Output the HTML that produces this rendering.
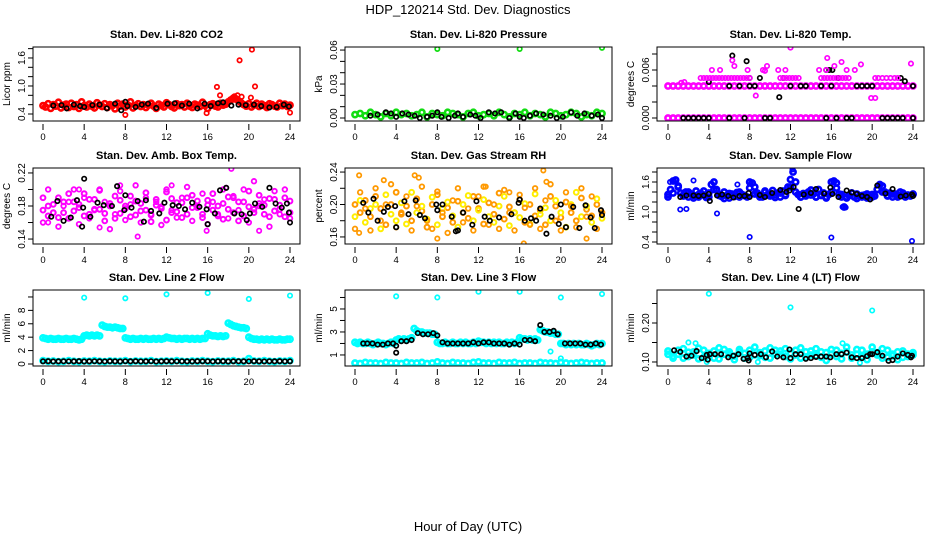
<!DOCTYPE html>
<html><head><meta charset="utf-8">
<style>
html,body{margin:0;padding:0;background:#fff;}
svg{display:block;font-family:"Liberation Sans",sans-serif;}
</style></head>
<body>
<svg id="chart" width="936" height="540" viewBox="0 0 936 540" xmlns="http://www.w3.org/2000/svg">
<text x="468" y="14" font-size="13" text-anchor="middle">HDP_120214  Std. Dev. Diagnostics</text>
<text x="468" y="531" font-size="13" text-anchor="middle">Hour of Day (UTC)</text>
</svg>
<script>
// ---------- DATA ----------
const xTicks = [0,4,8,12,16,20,24];

// CO2
const co2Band = [.58,.55,.62,.52,.60,.57,.65,.53,.59,.61,.54,.63,.56,.60,.52,.66,.58,.55,.61,.57,.53,.64,.59,.56,.62,.54,.60,.58,.51,.63,.57,.61,.55,.59,.66,.53,.58,.62,.56,.60,.54,.59,.63,.57,.52,.61,.58,.55,.64,.60,.56,.53,.62,.58,.60,.55,.63,.57,.54,.61,.59,.56,.65,.58,.52,.60,.62,.57,.55,.63,.59,.61,.66,.70,.74,.72,.68,.64,.60,.57,.62,.55,.59,.63,.56,.61,.58,.54,.62,.60,.57,.55,.63,.58,.61,.56,.59];
const co2OutHours = [8,15.9,16.9,17.2,19.1,20.3,20.6,24,18.6,18.9,19.3,20.2];
const co2OutVals = [.38,.42,.98,.80,1.55,1.78,.99,.43,.78,.80,.77,.75];
const co2BlackHours = [1,1.8,2.3,3,3.6,4,4.8,5.5,6.2,7,7.6,8,8.2,9,9.6,10.2,11,12.1,12.8,13.5,14.2,15,15.7,16.3,17,17.5,18.3,19,19.7,20.5,21.2,22,22.7,23.4,23.9];
const co2BlackVals = [.58,.59,.52,.60,.57,.55,.59,.60,.52,.62,.48,.66,.57,.55,.60,.62,.53,.62,.63,.58,.62,.52,.62,.57,.63,.65,.58,.60,.59,.60,.57,.54,.55,.60,.56];

// Pressure
const presBand = [.003,.004,.002,.005,.003,.001,.004,.002,.005,.003,.004,.002,.003,.005,.001,.004,.003,.002,.005,.004,.003,.001,.004,.005,.002,.003,.004,.002,.005,.003,.001,.004,.003,.005,.002,.004,.003,.001,.005,.004,.002,.003,.005,.004,.001,.003,.002,.005,.004];
const presOutHours = [8,16,24];
const presOutVals = [.061,.061,.062];
const presBlackHours = [1.5,2.2,3,3.5,4,4.6,5.2,5.8,6.3,7,7.5,8,8.4,9.1,9.7,10,10.5,11.2,11.7,12.2,13,13.6,14.2,15,15.6,16,16.4,17,17.6,18.3,19,19.6,20.2,21,21.6,22.3,23,23.6,24];
const presBlackVals = [.002,.003,.005,.004,.001,.004,.003,.002,0,.001,.002,.005,.001,0,.002,.004,.001,.003,.002,0,.005,.004,.005,0,.004,.001,0,.002,.004,.003,.002,0,.001,.005,.002,.004,.002,.003,0];

// Li-820 temp
const tempBandZero = [0,0,0,0,0,0,0,0,0,0,0,0,0,0,0,0,0,0,0,0,0,0,0,0,0,0,0,0,0,0,0,0,0,0,0,0,0,0,0,0,0,0,0,0,0,0,0,0,0];
const tempBandFour = [.004,.004,.004,.004,.004,.004,.004,.004,.004,.004,.004,.004,.004,.004,.004,.004,.004,.004,.004,.004,.004,.004,.004,.004,.004,.004,.004,.004,.004,.004,.004,.004,.004,.004,.004,.004,.004,.004,.004,.004,.004,.004,.004,.004,.004,.004,.004,.004,.004];
const tempHighHours = [3.2,3.5,3.8,4.1,4.4,4.7,5.0,5.3,5.6,5.9,6.2,6.5,6.8,7.1,7.4,7.7,8.0,11.0,11.3,11.6,11.9,12.2,12.5,12.8,15.0,15.3,15.6,15.9,16.2,16.5,16.8,17.1,17.4,17.7,20.3,20.6,21.0,21.4,21.8,22.2,22.5,1.3,1.6,4.3,5.1,6.5,7.8,9.3,9.7,10.8,11.5,14.8,15.5,16.3,17.5,18.3,18.9,19.9,20.3,8.6,6.3,12.0,15.6,17.0,23.8,9.5];
const tempHighVals = [.005,.005,.005,.005,.005,.005,.005,.005,.005,.005,.005,.005,.005,.005,.005,.005,.005,.005,.005,.005,.005,.005,.005,.005,.005,.005,.005,.005,.005,.005,.005,.005,.005,.005,.005,.005,.005,.005,.005,.005,.005,.0044,.0045,.006,.006,.0065,.006,.006,.0065,.006,.006,.006,.006,.0065,.006,.006,.0067,.0025,.0025,.0028,.0072,.0088,.0075,.007,.0068,.0059];
const tempBlackHours = [1.5,2,2.5,3,3.5,4,6,7.5,9.5,10,15.5,16.5,17.5,18,21,21.5,22,22.5,23,24,6,7,8,8.5,12,13,13.5,15,16,18.5,19,19.5,20,24,4,8,9,16.7,6.3,7.7,15.5,15.8,16.1,11.3,23.2,22.8,10.9];
const tempBlackVals = [0,0,0,0,0,0,0,0,0,0,0,0,0,0,0,0,0,0,0,0,.004,.004,.004,.004,.004,.004,.004,.004,.004,.004,.004,.004,.004,.004,.0045,.005,.005,.005,.0078,.0071,.006,.006,.006,.005,.0046,.005,.0026];

// Amb box temp
const ambBandA = [.175,.168,.182,.19,.172,.165,.185,.178,.195,.17,.188,.176,.162,.183,.192,.171,.18,.167,.186,.174,.196,.169,.181,.177,.163,.189,.173,.184,.17,.193,.178,.166,.187,.175,.18,.164,.191,.172,.185,.168,.198,.176,.183,.17,.189,.174,.181,.167,.186];
const ambBandB = [.19,.18,.172,.166,.185,.195,.174,.182,.168,.188,.176,.199,.171,.18,.165,.187,.177,.192,.169,.183,.175,.161,.188,.179,.197,.172,.184,.166,.19,.178,.186,.17,.181,.195,.168,.183,.176,.19,.162,.185,.179,.172,.193,.181,.167,.188,.176,.19,.172];
const ambBandC = [.16,.2,.172,.155,.18,.185,.2,.158,.19,.165,.175,.2,.185,.152,.17,.198,.163,.182,.205,.16,.19,.17,.185,.157,.2,.175,.166,.19,.203,.162,.18,.195,.158,.185,.17,.2,.165,.192,.175,.2,.16,.21,.18,.188,.155,.198,.17,.2,.165];
const ambOutHours = [9.2,18.3,0.5,15.9,21,12.5,7.5,3.5,17.8,5.5];
const ambOutVals = [.143,.225,.16,.15,.15,.205,.205,.2,.202,.154];
const ambBlackHours = [0.8,1.4,2,2.7,3.3,3.8,3.9,4,4.6,5.3,5.9,6.7,7.2,7.9,8,8.6,9.2,9.8,10,10.5,11.3,11.8,12.6,13.2,13.8,14.5,15.2,15.9,16,16.7,17.2,17.8,18.6,19.3,19.8,20.1,20.6,21.3,22,22.6,23.2,23.7,23.9,24];
const ambBlackVals = [.167,.186,.162,.166,.187,.155,.178,.213,.167,.184,.181,.18,.204,.175,.193,.178,.186,.161,.187,.174,.171,.184,.181,.18,.176,.184,.179,.176,.158,.171,.199,.202,.171,.17,.163,.171,.183,.179,.202,.183,.178,.183,.172,.16];

// Gas stream RH
const rhBandA = [.2,.19,.205,.185,.21,.195,.175,.2,.215,.188,.198,.18,.207,.192,.172,.2,.212,.185,.196,.178,.204,.19,.183,.21,.195,.176,.202,.188,.214,.182,.197,.19,.206,.178,.2,.186,.193,.175,.21,.198,.184,.203,.19,.18,.208,.194,.186,.2,.19];
const rhBandB = [.185,.205,.178,.195,.2,.17,.212,.188,.18,.202,.176,.215,.19,.198,.182,.209,.175,.195,.203,.186,.172,.2,.211,.18,.193,.206,.185,.178,.198,.21,.174,.19,.184,.201,.176,.213,.188,.196,.18,.205,.19,.172,.2,.215,.185,.198,.178,.207,.183];
const rhBandC = [.17,.215,.195,.168,.22,.18,.2,.225,.172,.19,.21,.168,.198,.222,.18,.17,.216,.19,.165,.205,.22,.178,.195,.168,.21,.222,.175,.2,.17,.218,.19,.168,.212,.196,.175,.22,.17,.205,.225,.18,.168,.215,.198,.172,.22,.185,.21,.17,.19];
const rhOutHours = [0.4,5.8,18.3,16.4,8,22.5,0.4,2.8,6.2,12.7,15,18.6];
const rhOutVals = [.236,.236,.242,.152,.158,.158,.165,.23,.233,.222,.215,.228];
const rhBlackHours = [0.8,1.3,1.8,2.2,2.8,3.2,3.9,4,4.8,5.2,5.9,6.3,6.8,7.9,8,8.5,9.4,9.8,10,10.5,11.4,11.8,12.6,13.1,14,15.2,15.9,16,16.5,17.1,17.6,18,18.6,19.1,19.8,20,20.5,21.2,21.8,22.4,22.9,23.3,23.9,24];
const rhBlackVals = [.202,.19,.207,.18,.191,.197,.198,.172,.204,.188,.205,.187,.183,.2,.193,.2,.185,.167,.168,.19,.175,.204,.185,.18,.184,.188,.202,.206,.18,.183,.18,.195,.164,.185,.176,.2,.172,.197,.171,.199,.184,.171,.193,.187];

// Sample flow
const sfBandA = [1.35,1.45,1.62,1.64,1.5,1.38,1.32,1.4,1.3,1.36,1.33,1.42,1.3,1.37,1.34,1.29,1.38,1.55,1.6,1.45,1.35,1.31,1.4,1.33,1.28,1.36,1.32,1.39,1.3,1.35,1.33,1.3,1.6,1.58,1.5,1.38,1.33,1.3,1.4,1.35,1.32,1.43,1.34,1.38,1.3,1.42,1.35,1.5,1.65,1.8,1.6,1.35,1.3,1.37,1.32,1.4,1.34,1.36,1.3,1.45,1.33,1.38,1.3,1.35,1.6,1.62,1.48,1.36,1.3,1.1,1.28,1.33,1.38,1.3,1.36,1.32,1.3,1.34,1.28,1.3,1.35,1.32,1.45,1.55,1.52,1.4,1.33,1.38,1.3,1.36,1.33,1.4,1.35,1.3,1.34,1.32,1.36];
const sfBandB = [1.3,1.38,1.52,1.34,1.4,1.28,1.35,1.42,1.3,1.45,1.33,1.27,1.37,1.31,1.4,1.33,1.48,1.36,1.3,1.42,1.35,1.29,1.38,1.33,1.5,1.4,1.3,1.36,1.44,1.3,1.34,1.28,1.4,1.58,1.35,1.3,1.38,1.27,1.33,1.36,1.3,1.45,1.4,1.32,1.36,1.3,1.38,1.33,1.35];
const sfOutHours = [1.2,1.8,4.8,8,16,23.9,2.5,12.2,17.1,17.4,6.8,0.2];
const sfOutVals = [1.05,1.06,.97,.50,.49,.42,1.63,1.85,1.10,1.09,1.55,1.6];
const sfBlackHours = [1.2,1.8,2.5,3,3.5,4,4.1,4.8,5.3,5.9,6.4,7,7.5,7.9,8,9,9.5,10.2,11,11.6,11.9,12.3,12.8,13.3,14,14.5,15.3,15.9,16.1,16.7,17.5,18,18.5,19,19.5,19.8,20.5,21.3,22,22.8,23.3,23.9,24];
const sfBlackVals = [1.3,1.33,1.33,1.32,1.33,1.36,1.22,1.33,1.35,1.32,1.29,1.32,1.32,1.38,1.3,1.34,1.3,1.38,1.44,1.4,1.43,1.5,1.06,1.35,1.38,1.46,1.37,1.49,1.36,1.3,1.43,1.39,1.36,1.32,1.3,1.25,1.53,1.37,1.46,1.31,1.33,1.35,1.32];

// Line 2 flow
const l2Band = [3.9,3.8,3.7,3.8,3.7,3.7,3.8,3.7,3.7,3.8,3.7,3.7,3.8,3.7,3.6,3.7,4.2,4.3,4.2,4.3,4.2,4.3,4.2,5.8,5.6,5.5,5.5,5.4,5.5,5.4,5.3,5.3,3.9,3.8,3.7,3.8,3.7,3.7,3.8,3.7,3.8,3.7,3.7,3.8,3.7,3.8,3.7,3.8,4.0,3.9,3.8,3.8,3.7,3.8,3.7,3.8,3.8,3.7,3.8,3.7,3.8,3.7,3.8,3.8,4.5,4.3,4.2,4.2,4.1,4.2,4.1,4.2,6.1,5.9,5.7,5.6,5.5,5.4,5.4,5.3,4.0,3.8,3.7,3.7,3.6,3.7,3.6,3.7,3.6,3.7,3.6,3.6,3.7,3.6,3.6,3.7,3.7];
const l2Low = [.5,.4,.45,.35,.4,.5,.4,.35,.45,.4,.5,.4,.35,.45,.4,.4,.5,.35,.45,.4,.4,.5,.35,.4,.45,.4,.5,.4,.35,.45,.4,.5,.4,.35,.45,.4,.4,.5,.35,.4,.8,.45,.4,.5,.4,.35,.45,.4,.5];
const l2Black = [.4,.42,.38,.4,.41,.39,.4,.42,.38,.4,.41,.4,.39,.42,.4,.38,.41,.4,.42,.39,.4,.41,.38,.4,.42,.4,.39,.41,.4,.38,.42,.4,.41,.39,.4,.42,.38,.4,.41,.4,.39,.42,.4,.38,.41,.4,.42,.39,.4];
const l2OutHours = [4,8,12,16,20,24,0.2];
const l2OutVals = [9.9,9.8,10.4,10.6,9.7,10.2,0.5];

// Line 3 flow
const l3Band = [2.1,2.0,2.1,2.0,2.0,2.1,2.0,1.9,2.0,2.1,2.0,2.0,1.9,2.0,2.1,2.0,2.3,2.4,2.3,2.4,2.3,2.4,2.5,3.3,3.1,3.0,3.0,2.9,2.9,2.9,2.8,2.8,2.1,2.0,2.0,2.1,2.0,2.0,2.1,2.0,2.0,2.1,2.0,2.1,2.0,2.0,2.1,2.0,2.2,2.1,2.1,2.0,2.1,2.0,2.1,2.0,2.1,2.0,2.0,2.1,2.0,2.1,2.0,2.1,2.5,2.4,2.4,2.3,2.4,2.3,2.4,2.3,3.2,3.1,3.0,3.0,2.9,2.9,2.8,2.8,2.0,2.0,1.9,2.0,1.9,2.0,1.9,2.0,1.9,1.9,2.0,1.9,1.8,1.9,2.0,1.9,2.0];
const l3Low = [.3,.25,.35,.3,.3,.25,.35,.3,.3,.25,.35,.3,.3,.35,.25,.3,.4,.3,.25,.35,.3,.3,.25,.35,.4,.3,.3,.25,.35,.3,.3,.35,.25,.3,.3,.25,.35,.3,.3,.25,.35,.3,.25,.3,.35,.3,.25,.3,.3];
const l3OutHours = [4,8,12,16,20,24,19,20];
const l3OutVals = [6.1,6.0,6.5,6.5,6.0,6.3,1.3,0.7];
const l3BlackHours = [0.8,1.2,1.7,2.2,2.7,3.2,3.7,4,4,4.5,5,5.5,6.1,6.6,7.1,7.6,8,8.5,9,9.5,10,10.5,11,11.5,12,12.5,13,13.5,14,14.5,15,15.5,16,16.5,17,17.5,18,18.4,18.9,19.3,19.7,20.4,20.9,21.4,21.9,22.4,22.9,23.4,23.9];
const l3BlackVals = [2.0,2.0,2.0,1.9,1.9,2.0,2.0,1.8,1.2,2.2,2.2,2.3,2.9,2.8,2.8,2.9,2.7,2.1,2.0,2.0,2.0,2.0,2.0,2.1,2.0,2.1,2.1,2.0,2.0,2.0,1.9,2.0,1.9,2.3,2.3,2.2,3.6,3.0,3.0,3.1,2.8,2.0,2.0,2.0,2.0,1.9,1.9,2.0,1.9];

// Line 4 (LT) flow
const l4BandA = [.12,.115,.13,.11,.125,.118,.135,.112,.122,.128,.108,.132,.12,.115,.126,.11,.13,.118,.124,.112,.136,.12,.128,.114,.122,.13,.11,.126,.118,.134,.112,.124,.12,.13,.108,.126,.118,.132,.114,.12,.138,.124,.11,.13,.116,.126,.112,.12,.124];
const l4BandB = [.128,.11,.12,.134,.114,.126,.108,.13,.118,.11,.136,.12,.126,.106,.132,.122,.112,.138,.116,.128,.11,.13,.12,.134,.108,.118,.136,.112,.128,.116,.126,.104,.132,.114,.122,.138,.11,.12,.13,.106,.126,.118,.134,.112,.12,.106,.128,.114,.118];
const l4OutHours = [4,12,20,2,2.7,17.1,3.8,8.8,18.8];
const l4OutVals = [.275,.24,.232,.15,.148,.148,.1,.1,.098];
const l4BlackHours = [0.6,1.2,1.8,2.3,2.8,3.3,3.8,3.9,4.1,4.6,5.2,5.9,6.4,6.9,7.4,7.8,7.9,8,8.5,9.1,9.6,10.2,10.7,11.3,11.9,12,12.5,13,13.5,14,14.5,15,15.5,15.9,16.5,17,17.5,18,18.5,19,19.5,19.8,20,20.5,21,21.6,22,22.5,23,23.5,23.8,23.9];
const l4BlackVals = [.13,.126,.114,.116,.128,.11,.118,.106,.12,.12,.12,.112,.116,.12,.108,.11,.104,.122,.118,.12,.112,.127,.114,.112,.132,.11,.12,.12,.108,.11,.113,.114,.114,.112,.12,.12,.124,.112,.11,.11,.115,.12,.12,.125,.116,.103,.105,.114,.122,.118,.112,.116];

const panelTitles = ["Stan. Dev. Li-820 CO2","Stan. Dev. Li-820 Pressure","Stan. Dev. Li-820 Temp.","Stan. Dev. Amb. Box Temp.","Stan. Dev. Gas Stream RH","Stan. Dev. Sample Flow","Stan. Dev. Line 2 Flow","Stan. Dev. Line 3 Flow","Stan. Dev. Line 4 (LT) Flow"];
const yTitles = ["Licor ppm","kPa","degrees C","degrees C","percent","ml/min","ml/min","ml/min","ml/min"];
const yTickVals = [[.4,.6,.8,1,1.2,1.4,1.6,1.8],[0,.01,.02,.03,.04,.05,.06],[0,.002,.004,.006,.008],[.14,.16,.18,.2,.22],[.16,.18,.2,.22,.24],[.4,.6,.8,1,1.2,1.4,1.6,1.8],[0,2,4,6,8,10],[1,2,3,4,5,6],[.1,.15,.2,.25]];
const yTickLabels = [["0.4","","","1.0","","","1.6",""],["0.00","","","0.03","","","0.06"],["0.000","","","0.006",""],["0.14","","0.18","","0.22"],["0.16","","0.20","","0.24"],["0.4","","","1.0","","","1.6",""],["0","2","4","6","8",""],["1","","3","","5",""],["0.10","","0.20",""]];

// ---------- GEOMETRY ----------
const colBox = [[33,300],[345,612],[657,924]];
const colX = [[43,290],[355,602],[668,913]];
const rowBox = [[47,121],[168,244],[290,366]];
const yDomains = [[1.835,.25],[.0627,-.00265],[.008875,-.000375],[.226,.134],[.245,.1513],[1.88,.36],[11.04,-.3],[6.65,.04],[.2846,.0897]];

const svg = document.getElementById('chart');
const NS = 'http://www.w3.org/2000/svg';
function mk(tag, attrs, parent){
  const el = document.createElementNS(NS, tag);
  for (const k in attrs) el.setAttribute(k, attrs[k]);
  (parent||svg).appendChild(el);
  return el;
}

const panels = [];
for (let p=0;p<9;p++){
  const c = p%3, r = Math.floor(p/3);
  const [bx0,bx1] = colBox[c], [by0,by1] = rowBox[r];
  const [x0,x24] = colX[c];
  const [vTop,vBot] = yDomains[p];
  const xs = h => x0 + (x24-x0)*h/24;
  const ys = v => by0 + (by1-by0)*(vTop-v)/(vTop-vBot);
  const g = mk('g',{});
  
  
  const clip = mk('clipPath',{id:'clip'+p}, g);
  mk('rect',{x:bx0,y:by0,width:bx1-bx0,height:by1-by0}, clip);
  const marks = mk('g',{'clip-path':'url(#clip'+p+')'}, g);
  
  
  const box = mk('rect',{x:bx0,y:by0,width:bx1-bx0,height:by1-by0,fill:'none',stroke:'#000','stroke-width':1}, g);
  
  
  const t = mk('text',{x:(bx0+bx1)/2,y:by0-9,'font-size':11,'font-weight':'bold','text-anchor':'middle'}, g);
  t.textContent = panelTitles[p];
  
  
  const yt = mk('text',{x:0,y:0,'font-size':10,'text-anchor':'middle',transform:`translate(${bx0-23},${(by0+by1)/2}) rotate(-90)`}, g);
  yt.textContent = yTitles[p];
  
  
  const tv = yTickVals[p];
  const yl = mk('line',{x1:bx0,x2:bx0,y1:ys(tv[0]),y2:ys(tv[tv.length-1]),stroke:'#000'}, g);
  
  
  tv.forEach((v,i)=>{
    const tk = mk('line',{x1:bx0-5,x2:bx0,y1:ys(v),y2:ys(v),stroke:'#000'}, g);
    
    
    const lab = yTickLabels[p][i];
    if (lab){
      const tl = mk('text',{x:0,y:0,'font-size':10,'text-anchor':'middle',transform:`translate(${bx0-8},${ys(v)}) rotate(-90)`}, g);
      tl.textContent = lab;
      
      
    }
  });
  xTicks.forEach(h=>{
    const tk = mk('line',{x1:xs(h),x2:xs(h),y1:by1+3,y2:by1+9,stroke:'#000'}, g);
    
    
    const tl = mk('text',{x:xs(h),y:by1+19,'font-size':9.5,'text-anchor':'middle'}, g);
    tl.textContent = String(h);
    
    
  });
  panels.push({marks, xs, ys});
}

function band(p, vals, color, r, sw){
  const P = panels[p], n = vals.length;
  vals.forEach((v,i)=>{
    const h = 24*i/(n-1);
    const c = mk('circle',{cx:P.xs(h),cy:P.ys(v),r:r||2.6,fill:'none',stroke:color,'stroke-width':sw||2.6}, P.marks);
    
    
  });
}
function pts(p, hours, vals, color, r, sw){
  const P = panels[p], n = Math.min(hours.length, vals.length);
  for (let i=0;i<n;i++){
    const c = mk('circle',{cx:P.xs(hours[i]),cy:P.ys(vals[i]),r:r||2.2,fill:'none',stroke:color,'stroke-width':sw||1.7}, P.marks);
    
    
  }
}

band(0, co2Band, '#ff0000');
pts(0, co2OutHours, co2OutVals, '#ff0000');
pts(0, co2BlackHours, co2BlackVals, '#000');
band(1, presBand, '#11dd11');
pts(1, presOutHours, presOutVals, '#11dd11');
pts(1, presBlackHours, presBlackVals, '#000');
band(2, tempBandZero, '#ff00ff');
band(2, tempBandFour, '#ff00ff');
pts(2, tempBlackHours, tempBlackVals, '#000');
pts(2, tempHighHours, tempHighVals, '#ff00ff');
band(3, ambBandA, '#ff00ff', 2.4, 2);
band(3, ambBandB, '#ff00ff', 2.4, 2);
band(3, ambBandC, '#ff00ff', 2.3, 1.8);
pts(3, ambOutHours, ambOutVals, '#ff00ff');
pts(3, ambBlackHours, ambBlackVals, '#000');
band(4, rhBandA, '#ff9900', 2.4, 2);
band(4, rhBandB, '#ffee00', 2.4, 2);
band(4, rhBandC, '#ff9900', 2.3, 1.8);
pts(4, rhOutHours, rhOutVals, '#ff9900');
pts(4, rhBlackHours, rhBlackVals, '#000');
band(5, sfBandA, '#0000ff');
band(5, sfBandB, '#0000ff');
pts(5, sfOutHours, sfOutVals, '#0000ff');
pts(5, sfBlackHours, sfBlackVals, '#000');
band(6, l2Band, '#00ffff');
band(6, l2Low, '#00ffff');
pts(6, l2OutHours, l2OutVals, '#00ffff');
band(6, l2Black, '#000', 2.2, 1.7);
band(7, l3Band, '#00ffff');
band(7, l3Low, '#00ffff');
pts(7, l3OutHours, l3OutVals, '#00ffff');
pts(7, l3BlackHours, l3BlackVals, '#000');
band(8, l4BandA, '#00ffff');
band(8, l4BandB, '#00ffff');
pts(8, l4OutHours, l4OutVals, '#00ffff');
pts(8, l4BlackHours, l4BlackVals, '#000');
</script>
</body></html>
